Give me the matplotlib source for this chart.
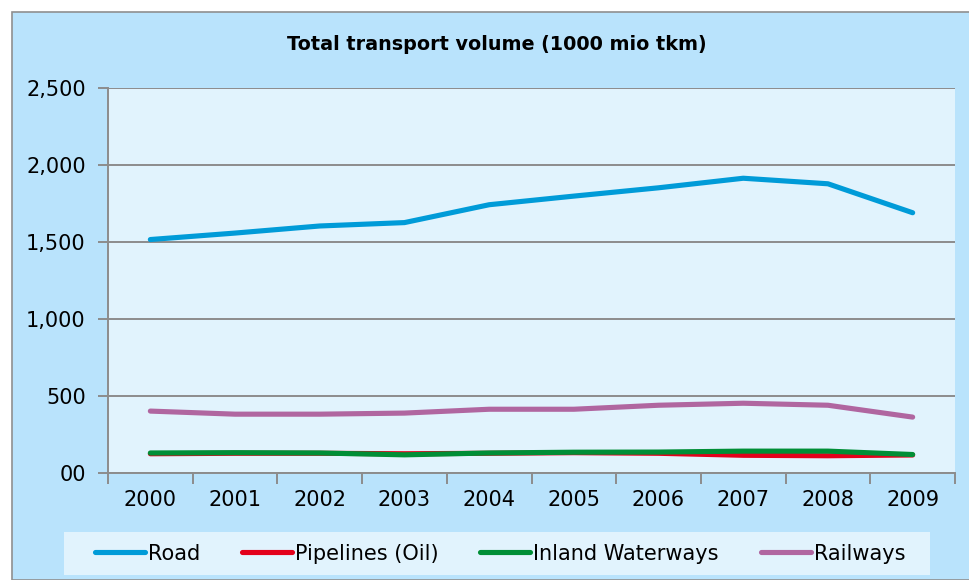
import matplotlib
matplotlib.use("Agg")
import matplotlib.pyplot as plt
from matplotlib.patches import Rectangle
import numpy as np

years = ["2000", "2001", "2002", "2003", "2004", "2005", "2006", "2007", "2008", "2009"]
road = [1516, 1558, 1604, 1626, 1742, 1798, 1852, 1914, 1878, 1690]
pipelines = [125, 128, 128, 125, 128, 132, 128, 115, 112, 117]
waterways = [130, 132, 130, 118, 130, 135, 136, 142, 142, 120]
railways = [402, 382, 382, 389, 414, 414, 440, 453, 440, 363]
ytick_vals = [0, 500, 1000, 1500, 2000, 2500]
ytick_labels = ["00", "500", "1,000", "1,500", "2,000", "2,500"]

outer_bg = "#B9E3FC"
inner_bg = "#E1F3FD"
grid_c = "#8C8C8C"

fig = plt.figure(figsize=[9.69, 5.8], dpi=100)
fig.patch.set_facecolor("white")
# outer chart box and legend box
fig.patches.append(Rectangle((12 / 969, 0), 1.0, (580 - 12) / 580, transform=fig.transFigure,
                             facecolor=outer_bg, edgecolor="#8F8F8F", linewidth=1.2, zorder=-10))
fig.patches.append(Rectangle((64 / 969, 1 - 575 / 580), (930 - 64) / 969, 43 / 580, transform=fig.transFigure,
                             facecolor=inner_bg, edgecolor="none", zorder=-5))

ax = fig.add_axes([108 / 969, 1 - 473 / 580, (955 - 108) / 969, (473 - 88) / 580])
ax.set_facecolor(inner_bg)

x = np.arange(len(years))
ax.plot(x, road, color="#009BD8", linewidth=3.7, solid_capstyle="round", label="Road")
ax.plot(x, pipelines, color="#E3001B", linewidth=3.7, solid_capstyle="round", label="Pipelines (Oil)")
ax.plot(x, waterways, color="#008E36", linewidth=3.7, solid_capstyle="round", label="Inland Waterways")
ax.plot(x, railways, color="#B066A0", linewidth=3.7, solid_capstyle="round", label="Railways")

ax.set_xlim(-0.5, len(years) - 0.5)
ax.set_ylim(0, 2500)
ax.set_yticks(ytick_vals)
ax.set_yticklabels(ytick_labels, fontsize=15)
ax.yaxis.grid(True, color=grid_c, linewidth=1.4)
ax.set_axisbelow(True)

# ticks at category boundaries, labels at centers
ax.set_xticks(np.arange(-0.5, len(years), 1.0))
ax.set_xticklabels([])
ax.set_xticks(x, minor=True)
ax.set_xticklabels(years, minor=True, fontsize=15)
ax.tick_params(axis="x", which="major", length=8, width=1.4, color=grid_c)
ax.tick_params(axis="x", which="minor", length=0, pad=12)
ax.tick_params(axis="y", length=7, width=1.4, color=grid_c, pad=9)

for s in ["top", "right"]:
    ax.spines[s].set_visible(False)
for s in ["left", "bottom"]:
    ax.spines[s].set_color(grid_c)
    ax.spines[s].set_linewidth(1.4)

fig.text(497 / 969, 1 - 45 / 580, "Total transport volume (1000 mio tkm)", ha="center", va="center",
         fontsize=13.8, fontweight="bold")

leg = fig.legend(loc="center", bbox_to_anchor=(500 / 969, 1 - 553.5 / 580), ncol=4, fontsize=15,
                 handlelength=2.4, handletextpad=0.15, columnspacing=2.0, frameon=False)

plt.savefig("out.png", dpi=100, facecolor=fig.get_facecolor())
